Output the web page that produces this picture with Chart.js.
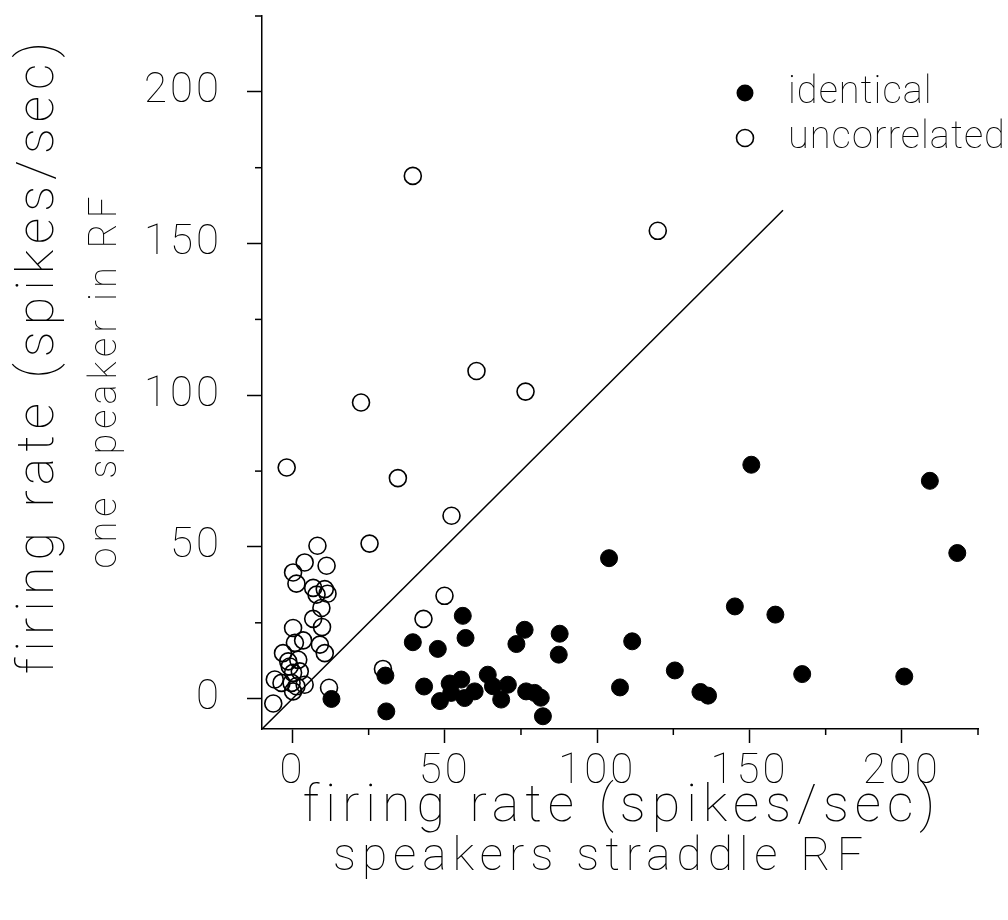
<!DOCTYPE html>
<html>
<head>
<meta charset="utf-8">
<script src="https://cdn.jsdelivr.net/npm/chart.js@4.4.0/dist/chart.umd.min.js"></script>
<style>
  html, body { margin: 0; padding: 0; background: #fff; }
  #wrap { width: 1008px; height: 920px; }
</style>
</head>
<body>
<div id="wrap"><canvas id="myChart" width="1008" height="920"></canvas></div>
<script>
// ===== data =====
const identicalX = [12.8, 30.5, 30.8, 39.5, 43.2, 47.7, 48.4, 51.6, 52.1, 55.4, 55.9, 56.8, 56.5, 59.8, 64.1, 65.8, 68.5, 70.7, 73.5, 76.2, 76.7, 79.5, 81.5, 82.2, 87.7, 87.4, 103.9, 107.5, 111.5, 125.5, 133.9, 136.4, 145.2, 150.6, 158.5, 167.3, 200.8, 209.2, 218.2];
const identicalY = [-0.1, 7.6, -4.2, 18.6, 4.0, 16.4, -0.8, 5.0, 1.9, 6.3, 27.3, 20.0, 0.2, 2.4, 7.9, 4.1, -0.3, 4.6, 18.0, 22.7, 2.4, 1.9, 0.3, -5.8, 21.4, 14.5, 46.3, 3.7, 18.9, 9.3, 2.2, 1.0, 30.4, 77.1, 27.7, 8.1, 7.3, 71.8, 48.0];

const uncorrX = [8.2, 4.0, 11.2, 0.2, 1.3, 6.8, 10.6, 7.9, 11.5, 9.5, 6.8, 9.7, 0.2, 0.8, 3.5, 9.0, 10.6, -3.1, -1.4, 1.9, -0.9, 0.2, 2.4, -5.8, -3.6, -0.3, 1.3, 4.0, 0.2, -6.3, 12.0, 39.5, 119.9, 22.5, -1.9, 60.4, 76.5, 34.6, 52.2, 25.3, 49.9, 43.0, 29.7];
const uncorrY = [50.4, 44.9, 43.8, 41.6, 37.9, 36.5, 36.1, 34.3, 34.6, 29.9, 26.3, 23.6, 23.3, 18.4, 19.2, 17.8, 15.0, 15.0, 12.3, 12.8, 10.6, 8.5, 9.0, 6.3, 5.2, 5.2, 4.1, 4.6, 2.4, -1.6, 3.6, 172.3, 154.2, 97.6, 76.2, 108.0, 101.2, 72.7, 60.3, 51.1, 33.9, 26.3, 9.8];

// y = x reference line
const diagX = [-10, 161];
const diagY = [-10, 161];

const majorTicks = [0, 50, 100, 150, 200];
const minorTicks = [25, 75, 125, 175, 225];
const legendLabels = ["identical", "uncorrelated"];
const axisTitle = "firing rate (spikes/sec)";
const ySubTitle = "one speaker in RF";
const xSubTitle = "speakers straddle RF";

const FONT = "Roboto";
const toPoints = (xs, ys) => xs.map((x, i) => ({ x: x, y: ys[i] }));

// spaced-out lettering, like the plotter font of the original
const spacingPlugin = {
  id: "spacing",
  beforeDraw(chart) {
    chart.ctx.letterSpacing = "3px";
  },
};

// minor ticks, axis titles and the legend
const extrasPlugin = {
  id: "extras",
  afterDraw(chart) {
    const { ctx, chartArea, scales } = chart;
    ctx.save();
    ctx.strokeStyle = "#000";
    ctx.lineWidth = 1.5;
    minorTicks.forEach((v) => {
      const px = scales.x.getPixelForValue(v);
      ctx.beginPath();
      ctx.moveTo(px, chartArea.bottom);
      ctx.lineTo(px, chartArea.bottom + 6);
      ctx.stroke();
      const py = scales.y.getPixelForValue(v);
      ctx.beginPath();
      ctx.moveTo(chartArea.left - 7, py);
      ctx.lineTo(chartArea.left, py);
      ctx.stroke();
    });

    ctx.fillStyle = "#000";
    ctx.textAlign = "center";
    ctx.textBaseline = "middle";

    // x titles
    ctx.letterSpacing = "6px";
    ctx.font = `100 52px ${FONT}`;
    ctx.fillText(axisTitle, 622, 808);
    ctx.font = `100 46px ${FONT}`;
    ctx.fillText(xSubTitle, 601, 858);

    // y titles
    ctx.save();
    ctx.translate(40, 355);
    ctx.rotate(-Math.PI / 2);
    ctx.font = `100 52px ${FONT}`;
    ctx.fillText(axisTitle, 0, 0);
    ctx.restore();
    ctx.save();
    ctx.translate(106, 380);
    ctx.rotate(-Math.PI / 2);
    ctx.letterSpacing = "5px";
    ctx.font = `100 38px ${FONT}`;
    ctx.fillText(ySubTitle, 0, 0);
    ctx.restore();

    // legend
    const lx = 745, ly = [93, 138];
    ctx.letterSpacing = "1px";
    ctx.font = `100 38px ${FONT}`;
    ctx.textAlign = "left";
    legendLabels.forEach((txt, i) => {
      ctx.beginPath();
      ctx.arc(lx, ly[i], 8.5, 0, Math.PI * 2);
      if (i === 0) {
        ctx.fill();
      } else {
        ctx.lineWidth = 1.6;
        ctx.stroke();
      }
      ctx.fillText(txt, 788, ly[i]);
    });
    ctx.restore();
  },
};

const ctx = document.getElementById("myChart").getContext("2d");
const myChart = new Chart(ctx, {
  type: "scatter",
  data: {
    datasets: [
      {
        label: legendLabels[0],
        data: toPoints(identicalX, identicalY),
        pointRadius: 8.5,
        pointBackgroundColor: "#000",
        pointBorderColor: "#000",
        pointBorderWidth: 1,
      },
      {
        label: legendLabels[1],
        data: toPoints(uncorrX, uncorrY),
        pointRadius: 8.5,
        pointBackgroundColor: "rgba(0,0,0,0)",
        pointBorderColor: "#000",
        pointBorderWidth: 1.6,
      },
      {
        label: "y = x",
        data: toPoints(diagX, diagY),
        showLine: true,
        pointRadius: 0,
        borderColor: "#000",
        borderWidth: 1.5,
      },
    ],
  },
  options: {
    responsive: false,
    animation: false,
    devicePixelRatio: 1,
    layout: { padding: { left: 0, top: 16, right: 30, bottom: 0 } },
    plugins: {
      legend: { display: false },
      tooltip: { enabled: false },
    },
    scales: {
      x: {
        type: "linear",
        min: -10,
        max: 225,
        afterBuildTicks: (s) => { s.ticks = majorTicks.map((v) => ({ value: v })); },
        afterFit: (s) => { s.height = 191; s.paddingLeft = 0; s.paddingRight = 0; },
        ticks: { color: "#000", font: { family: FONT, size: 42, weight: 100 }, padding: 4, maxRotation: 0 },
        grid: { drawOnChartArea: false, tickLength: 14, tickWidth: 1.5, tickColor: "#000" },
        border: { display: true, color: "#000", width: 1.5 },
      },
      y: {
        type: "linear",
        min: -10,
        max: 225,
        afterBuildTicks: (s) => { s.ticks = majorTicks.map((v) => ({ value: v })); },
        afterFit: (s) => { s.width = 262; s.paddingTop = 0; s.paddingBottom = 0; },
        ticks: { color: "#000", font: { family: FONT, size: 42, weight: 100 }, padding: 25 },
        grid: { drawOnChartArea: false, tickLength: 15, tickWidth: 1.5, tickColor: "#000" },
        border: { display: true, color: "#000", width: 1.5 },
      },
    },
  },
  plugins: [spacingPlugin, extrasPlugin],
});
</script>
</body>
</html>
